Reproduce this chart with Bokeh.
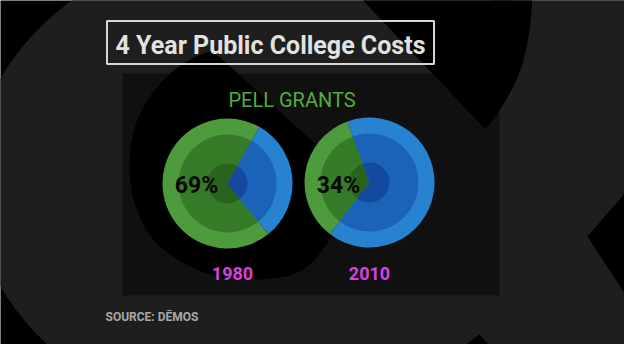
import numpy as np
from bokeh.plotting import figure
from bokeh.models import Range1d, ColumnDataSource
from bokeh.embed import file_html
from bokeh.resources import INLINE
from bokeh.core.properties import value

W, H = 640, 360


def Y(v):
    return H - v


# ---------------- data ----------------
years = ["1980", "2010"]
pell_share = [69, 34]            # % of cost covered by Pell grants (green)
pct_labels = ["69%", "34%"]
title_text = "4 Year Public College Costs"
subtitle_text = "PELL GRANTS"
source_text = "SOURCE: DĒMOS"

# ---------------- layout / style ----------------
pie_cx = [235, 377]
pie_cy = [191, 190]
green_start_deg = [60.6, 110.0]
ring_r = [65, 49, 20]
green_cols = ["#4e9b3e", "#367b27", "#29631e"]
blue_cols = ["#2783cf", "#1a63b8", "#1449a0"]
year_x = [240, 377]
pct_dx = -31

FONT = "Roboto"
GRAY_BG = "#1e1e1e"
DESC = 0.25  # baseline correction (fraction of font size)


def BY(baseline, size):
    return Y(baseline - DESC * size)


def catmull(pts, n=12):
    pts = np.asarray(pts, dtype=float)
    ext = np.vstack([pts[0], pts, pts[-1]])
    out = []
    for i in range(1, len(ext) - 2):
        p0, p1, p2, p3 = ext[i - 1], ext[i], ext[i + 1], ext[i + 2]
        for t in np.linspace(0, 1, n, endpoint=False):
            t2, t3 = t * t, t * t * t
            out.append(0.5 * ((2 * p1) + (-p0 + p2) * t + (2 * p0 - 5 * p1 + 4 * p2 - p3) * t2
                              + (-p0 + 3 * p1 - 3 * p2 + p3) * t3))
    out.append(pts[-1])
    return np.array(out)


p = figure(width=624, height=344, x_range=Range1d(8, 632), y_range=Range1d(8, 352),
           output_backend="svg", toolbar_location=None, min_border=0,
           x_axis_location=None, y_axis_location=None)
p.grid.visible = False
p.outline_line_color = None
p.background_fill_color = "#000000"
p.border_fill_color = "#000000"

# ---------------- background "&" logo shapes ----------------
p.ellipse(x=300, y=Y(190), width=642, height=502, fill_color=GRAY_BG, line_color=None)
p.quad(left=500, right=650, bottom=-10, top=370, fill_color=GRAY_BG, line_color=None)
# black V at top (right side curved)
vr = catmull([(493, 137), (512, 110), (527, 80), (535, 50), (539, 20), (540, -5)], 8)
vx = [360, 363] + list(vr[:, 0])
vy = [-5, 0] + list(vr[:, 1])
p.patch(vx, [Y(v) for v in vy], fill_color="#000000", line_color=None)
# right notch
nx = [650, 640, 595, 640, 650]
ny = [180, 192, 244, 313, 325]
p.patch(nx, [Y(v) for v in ny], fill_color="#000000", line_color=None)
# bottom triangle
bx = [455, 463, 487, 503, 511]
by = [370, 360, 342, 360, 370]
p.patch(bx, [Y(v) for v in by], fill_color="#000000", line_color=None)
# inner loop (teardrop)
curve = catmull([(372, 196), (345, 236), (315, 274), (280, 286), (230, 285), (190, 270),
                 (160, 246), (142, 210), (137, 172), (142, 136), (156, 106), (178, 81),
                 (200, 66), (220, 58)], 10)
tx = [220] + list(curve[:, 0])
ty = [58] + list(curve[:, 1])
p.patch(tx, [Y(v) for v in ty], fill_color="#000000", line_color=None)

# translucent panel
p.quad(left=130, right=507, top=Y(81), bottom=Y(303), fill_color="#000000",
       fill_alpha=0.45, line_color=None)

# title box
p.quad(left=114.5, right=441.5, top=Y(28.5), bottom=Y(71.5), fill_color=None,
       line_color="#d6d6d6", line_width=2)
p.text(x=[278], y=[BY(59, 25)], text=[title_text], text_font=value(FONT),
       text_font_style="bold", text_font_size="25px", text_color="#e2e2e2",
       text_align="center", text_baseline="alphabetic")

p.text(x=[299.5], y=[BY(112, 20)], text=[subtitle_text], text_font=value(FONT),
       text_font_size="20px", text_color="#52ae3e",
       text_align="center", text_baseline="alphabetic")

# ---------------- pies ----------------
for k in range(3):
    xs, ys, starts, ends, cols = [], [], [], [], []
    for i in range(len(years)):
        g0 = green_start_deg[i]
        g1 = g0 + pell_share[i] * 3.6
        xs += [pie_cx[i], pie_cx[i]]
        ys += [Y(pie_cy[i]), Y(pie_cy[i])]
        starts += [g0, g1]
        ends += [g1, g0 + 360]
        cols += [green_cols[k], blue_cols[k]]
    src = ColumnDataSource(dict(x=xs, y=ys, s=starts, e=ends, c=cols))
    p.wedge(x="x", y="y", radius=ring_r[k], start_angle="s", end_angle="e",
            start_angle_units="deg", end_angle_units="deg", direction="anticlock",
            fill_color="c", line_color=None, source=src)

p.text(x=[c + pct_dx for c in pie_cx], y=[BY(199, 23), BY(199, 23)], text=pct_labels,
       text_font=value(FONT), text_font_style="bold", text_font_size="23px",
       text_color="#080808", text_align="center", text_baseline="alphabetic")

p.text(x=year_x, y=[BY(285, 18), BY(285, 18)], text=years, text_font=value(FONT),
       text_font_style="bold", text_font_size="18px", text_color="#d940e0",
       text_align="center", text_baseline="alphabetic")

p.text(x=[113], y=[BY(327, 12)], text=[source_text], text_font=value(FONT),
       text_font_style="bold", text_font_size="12px", text_color="#a9a9a9",
       text_align="left", text_baseline="alphabetic")

open("out.html", "w").write(file_html(p, INLINE))
